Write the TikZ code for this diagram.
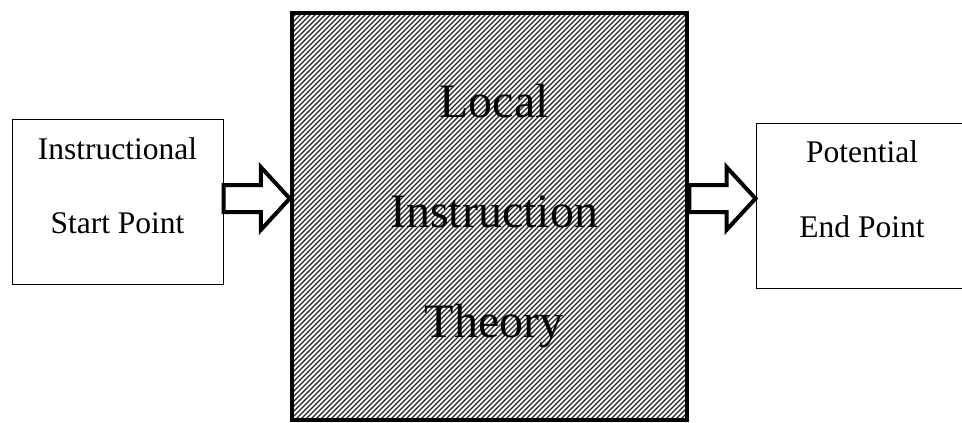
\documentclass[tikz,border=0pt]{standalone}
\usepackage{fontspec}
\setmainfont{Liberation Serif}
\usetikzlibrary{calc}
\tikzset{
  smallbox/.style={draw=black, line width=1pt, fill=white, rectangle, inner sep=0pt},
  bigbox/.style={draw=black, line width=4.5pt, rectangle, inner sep=0pt},
  smalltext/.style={anchor=base, inner sep=0pt, font=\fontsize{31.5}{36}\selectfont},
  bigtext/.style={anchor=base, inner sep=0pt, font=\fontsize{48}{56}\selectfont},
  blockarrow/.style={draw=black, line width=4pt, fill=white, line join=miter},
  hatchline/.style={black!85, line width=1.1pt}
}
\newcommand{\blkarrow}[2]{%
  \draw[blockarrow] let \p1=(#1), \p2=(#2) in
    (\x1,\y1+13.5) -- (\x2-29,\y1+13.5) -- (\x2-29,\y1+31.5) -- (\x2,\y1)
    -- (\x2-29,\y1-31.5) -- (\x2-29,\y1-13.5) -- (\x1,\y1-13.5) -- cycle;}
\begin{document}
\begin{tikzpicture}[x=1pt, y=-1pt]
\useasboundingbox (0,0) rectangle (962,423);
\fill[white] (0,0) rectangle (962,423);
% left box
\node[smallbox, minimum width=211pt, minimum height=165pt] (ls) at (117.5,201.5) {};
\node[smalltext] (ls1) at (117.5,159) {Instructional};
\node[smalltext] (ls2) at (117.5,233) {Start Point};
% right box
\node[smallbox, minimum width=212pt, minimum height=165pt] (re) at (862,205.5) {};
\node[smalltext] (re1) at (862,162) {Potential};
\node[smalltext] (re2) at (862,237) {End Point};
% main box with hatch
\node[minimum width=395pt, minimum height=407pt, inner sep=0pt] (m) at (489.5,216.5) {};
\begin{scope}
  \clip (m.south west) rectangle (m.north east);
  \fill[white] (m.south west) rectangle (m.north east);
  \foreach \k in {-440,-435,...,700} {
    \draw[hatchline] (\k,430) -- (\k+440,-10);
  }
\end{scope}
\node[bigbox, minimum width=395pt, minimum height=407pt] (mb) at (m) {};
\node[bigtext] (t1) at (494,117) {Local};
\node[bigtext] (t2) at (494,227) {Instruction};
\node[bigtext] (t3) at (494,337) {Theory};
% arrows
\coordinate (a1) at (ls.east |- 0,198.5);
\coordinate (a2) at (mb.west |- 0,198.5);
\coordinate (b1) at (mb.east |- 0,198.5);
\coordinate (b2) at (re.west |- 0,198.5);
\blkarrow{a1}{a2}
\blkarrow{b1}{b2}
\end{tikzpicture}
\end{document}
